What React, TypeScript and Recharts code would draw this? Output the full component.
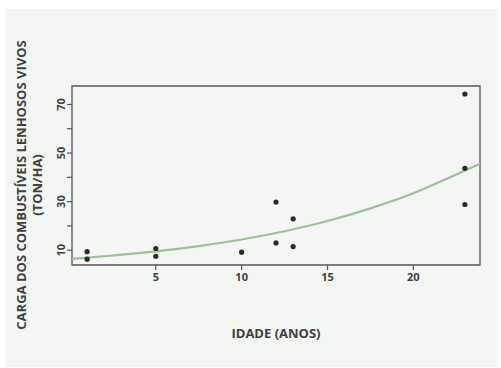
import { ComposedChart, Scatter, Line, XAxis, YAxis, ReferenceArea, Label } from "recharts";

// observed plots: age (years) and live woody fuel load (ton/ha)
const AGE = [1, 1, 5, 5, 10, 12, 12, 13, 13, 23, 23, 23];
const LOAD = [9.4, 6.3, 10.7, 7.5, 9.2, 29.8, 13.0, 22.9, 11.5, 74.3, 43.7, 28.8];

// fitted curve
const FIT_AGE = [0.12, 2.5, 5, 7.5, 10, 12.5, 15, 17.5, 20, 22.5, 23.88];
const FIT_LOAD = [6.4, 7.8, 9.5, 11.7, 14.4, 17.8, 22.0, 27.2, 33.4, 41.2, 45.6];

const X_TICKS = [5, 10, 15, 20];
const Y_TICKS = [10, 20, 30, 40, 50, 60, 70];
const Y_LABELED = [10, 30, 50, 70];

const X_DOMAIN = [0.12, 23.88];
const Y_DOMAIN = [3.9, 77.6];

const points = AGE.map((x, i) => ({ x, y: LOAD[i] }));
const fit = FIT_AGE.map((x, i) => ({ x, y: FIT_LOAD[i] }));

const FONT = "'Open Sans', 'DejaVu Sans', sans-serif";
const TEXT = "#404040";
const AXIS = "#555";

const YTick = (props: any) => {
  const { x, y, payload } = props;
  if (!Y_LABELED.includes(payload.value)) return null;
  return (
    <text
      x={x}
      y={y}
      transform={`rotate(-90, ${x}, ${y})`}
      textAnchor="middle"
      fontFamily={FONT}
      fontWeight={700}
      fontSize={11}
      fill={TEXT}
    >
      {payload.value}
    </text>
  );
};

const YTitle = () => (
  <g fontFamily={FONT} fontWeight={700} fontSize={13} fill={TEXT} textAnchor="middle">
    <text x={26} y={185} transform="rotate(-90, 26, 185)">
      CARGA DOS COMBUSTÍVEIS LENHOSOS VIVOS
    </text>
    <text x={42} y={185} transform="rotate(-90, 42, 185)">
      (TON/HA)
    </text>
  </g>
);

export default function App() {
  return (
    <div style={{ position: "absolute", left: 0, top: 0, width: 501, height: 368, background: "#fff" }}>
      <div style={{ position: "absolute", left: 5, top: 9, width: 492, height: 358, background: "#f4f6f3" }} />
      <div style={{ position: "absolute", left: 0, top: 0 }}>
        <ComposedChart width={501} height={368} margin={{ top: 86, right: 21, bottom: 73, left: 32 }}>
          <XAxis
            dataKey="x"
            type="number"
            domain={X_DOMAIN}
            ticks={X_TICKS}
            allowDataOverflow
            axisLine={false}
            tickLine={{ stroke: AXIS, strokeWidth: 1.2 }}
            tickSize={5}
            tickMargin={3}
            height={30}
            tick={{ fontFamily: FONT, fontWeight: 700, fontSize: 11, fill: TEXT }}
          >
            <Label
              value="IDADE (ANOS)"
              position="bottom"
              offset={34}
              style={{ fontFamily: FONT, fontWeight: 700, fontSize: 13, fill: TEXT }}
            />
          </XAxis>
          <YAxis
            dataKey="y"
            type="number"
            domain={Y_DOMAIN}
            ticks={Y_TICKS}
            allowDataOverflow
            axisLine={false}
            tickLine={{ stroke: AXIS, strokeWidth: 1.2 }}
            tickSize={5}
            tickMargin={2}
            width={40}
            tick={<YTick />}
          >
            <Label content={<YTitle />} />
          </YAxis>
          <ReferenceArea
            x1={X_DOMAIN[0]}
            x2={X_DOMAIN[1]}
            y1={Y_DOMAIN[0]}
            y2={Y_DOMAIN[1]}
            fill="none"
            stroke={AXIS}
            strokeWidth={1.3}
          />
          <Line
            data={fit}
            dataKey="y"
            type="monotone"
            stroke="#9dc198"
            strokeWidth={2.2}
            dot={false}
            isAnimationActive={false}
          />
          <Scatter
            data={points}
            fill="#2a2a2a"
            shape={(p: any) => <circle cx={p.cx} cy={p.cy} r={2.6} fill="#2a2a2a" />}
            isAnimationActive={false}
          />
        </ComposedChart>
      </div>
    </div>
  );
}
